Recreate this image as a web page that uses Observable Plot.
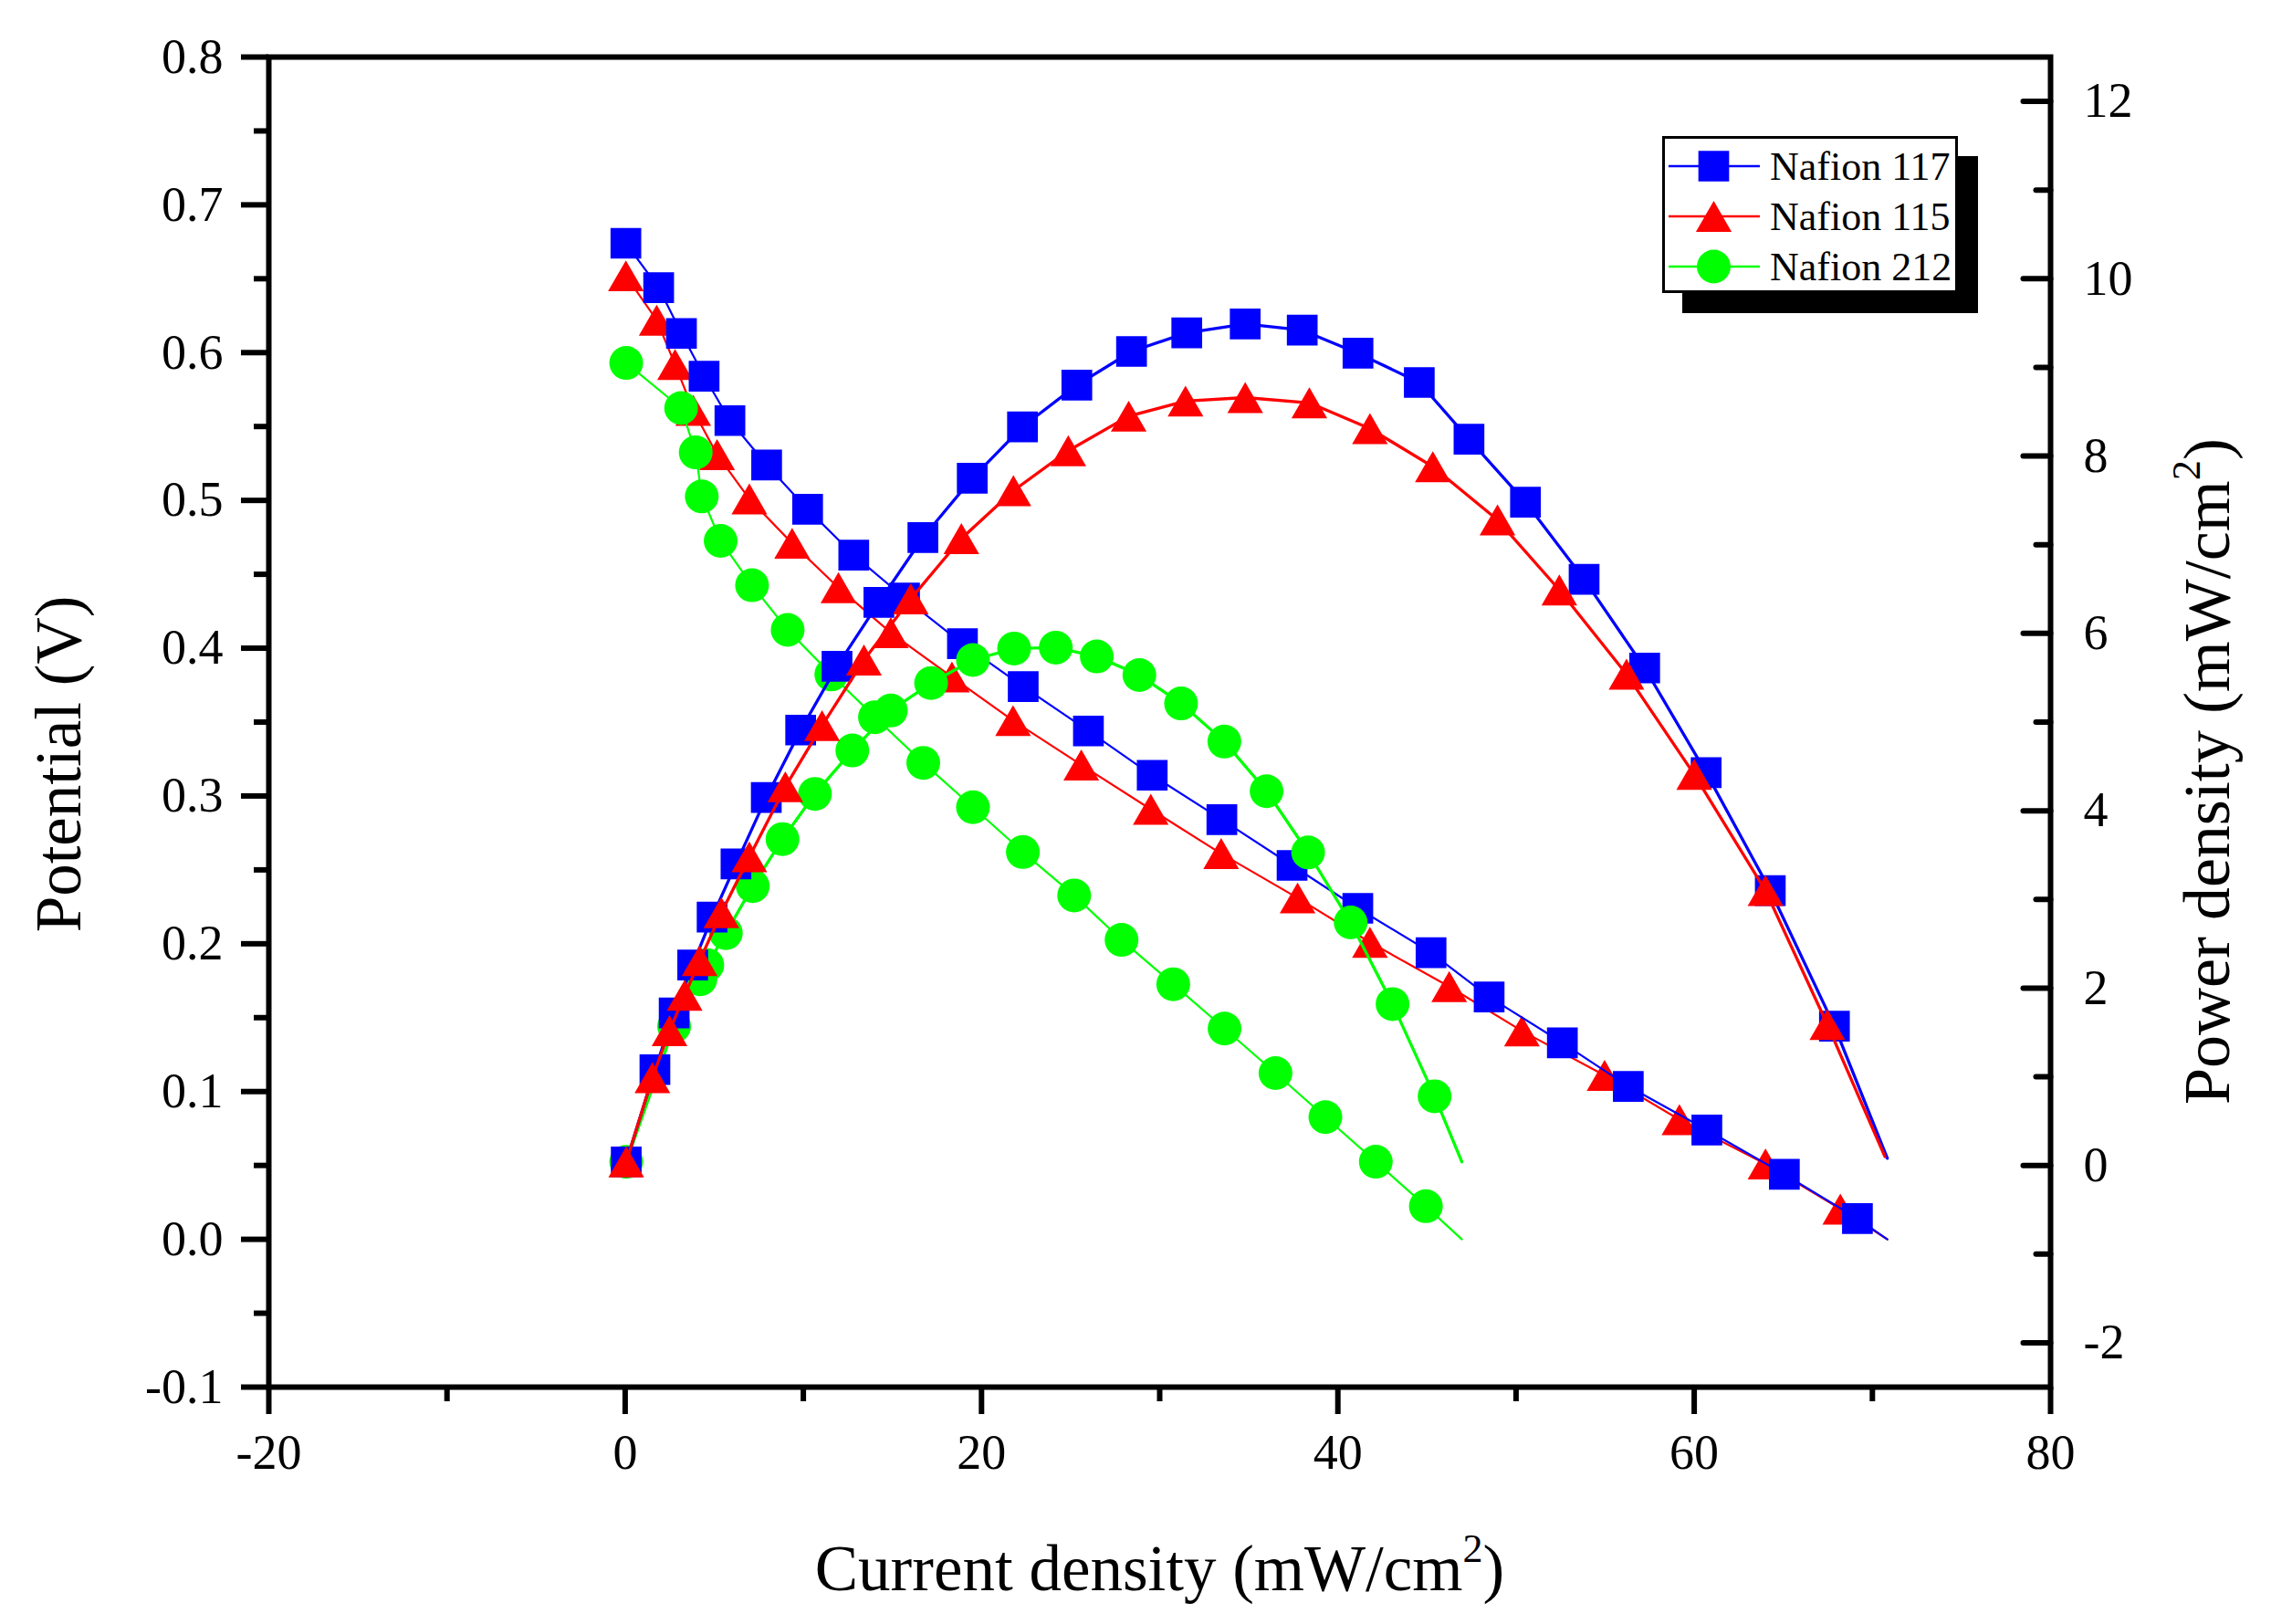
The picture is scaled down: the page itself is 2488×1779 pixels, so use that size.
<!DOCTYPE html>
<html><head><meta charset="utf-8">
<script src="https://cdn.jsdelivr.net/npm/d3@7"></script>
<script src="https://cdn.jsdelivr.net/npm/@observablehq/plot@0.6"></script>
<style>
html,body{margin:0;padding:0;background:#fff;}
#wrap{position:relative;width:2488px;height:1779px;font-family:"Liberation Serif","Times New Roman",serif;}
#legend{position:absolute;left:1821px;top:149px;width:318px;height:166px;border:3px solid #000;background:#fff;box-shadow:22px 22px 0 #000;}
</style></head><body><div id="wrap"><div id="legend"></div></div>
<script>
// ---- data ----
const seriesNames = ["Nafion 117", "Nafion 115", "Nafion 212"];
const seriesColors = ["#0000ff", "#ff0000", "#00ff00"];

// Nafion 117 potential
const n117_VI = [0.04, 1.88, 3.16, 4.43, 5.88, 7.94, 10.24, 12.83, 15.68, 18.93, 22.34, 26.0, 29.58, 33.49, 37.43, 41.12, 45.23, 48.49, 52.6, 56.3, 60.71, 65.06, 69.16];
const n117_V  = [0.674, 0.644, 0.613, 0.584, 0.554, 0.524, 0.494, 0.463, 0.434, 0.403, 0.374, 0.344, 0.314, 0.284, 0.253, 0.224, 0.194, 0.164, 0.133, 0.1035, 0.074, 0.044, 0.014];
const n117_Vend = [70.84, 0.0];
// Nafion 117 power density
const n117_PI = [0.06, 1.67, 2.75, 3.79, 4.88, 6.22, 7.92, 9.85, 11.89, 14.24, 16.71, 19.48, 22.3, 25.35, 28.42, 31.52, 34.8, 38.0, 41.13, 44.57, 47.36, 50.53, 53.82, 57.22, 60.67, 64.27, 67.87];
const n117_P  = [0.04, 1.08, 1.72, 2.26, 2.80, 3.40, 4.15, 4.91, 5.63, 6.35, 7.08, 7.75, 8.33, 8.80, 9.18, 9.39, 9.49, 9.42, 9.16, 8.83, 8.19, 7.48, 6.61, 5.61, 4.43, 3.10, 1.57];
const n117_Pend = [70.84, 0.08];

// Nafion 115 potential
const n115_VI = [0.04, 1.77, 2.80, 3.82, 5.16, 6.97, 9.37, 11.97, 14.91, 18.34, 21.77, 25.6, 29.5, 33.45, 37.74, 41.8, 46.25, 50.33, 54.97, 59.17, 64.0, 68.2];
const n115_V  = [0.652, 0.622, 0.592, 0.561, 0.531, 0.501, 0.471, 0.441, 0.4105, 0.3805, 0.351, 0.321, 0.291, 0.261, 0.231, 0.201, 0.171, 0.141, 0.111, 0.081, 0.051, 0.0205];
const n115_Vend = [70.84, 0.0];
// Nafion 115 power density
const n115_PI = [0.06, 1.53, 2.49, 3.34, 4.18, 5.40, 6.97, 8.99, 11.05, 13.4, 16.03, 18.87, 21.79, 24.87, 28.26, 31.45, 34.8, 38.4, 41.8, 45.33, 48.96, 52.43, 56.2, 60.0, 64.0, 67.47];
const n115_P  = [0.04, 0.99, 1.52, 1.92, 2.31, 2.85, 3.48, 4.27, 4.96, 5.70, 6.39, 7.07, 7.61, 8.06, 8.45, 8.62, 8.66, 8.60, 8.31, 7.88, 7.28, 6.49, 5.54, 4.41, 3.10, 1.59];
const n115_Pend = [70.7, 0.1];

// Nafion 212 potential
const n212_VI = [0.06, 3.14, 3.96, 4.30, 5.36, 7.12, 9.12, 11.57, 14.02, 16.73, 19.52, 22.32, 25.2, 27.86, 30.76, 33.64, 36.5, 39.3, 42.13, 44.94];
const n212_V  = [0.593, 0.5625, 0.5325, 0.5027, 0.4726, 0.4426, 0.4124, 0.3822, 0.3533, 0.3224, 0.2924, 0.2621, 0.2327, 0.2026, 0.1726, 0.1426, 0.1125, 0.0827, 0.0525, 0.0224];
const n212_Vend = [46.96, 0.0];
// Nafion 212 power density
const n212_PI = [0.06, 2.75, 4.22, 4.61, 5.65, 7.16, 8.83, 10.65, 12.75, 14.91, 17.17, 19.52, 21.83, 24.17, 26.47, 28.86, 31.2, 33.63, 36.0, 38.33, 40.72, 43.07, 45.43];
const n212_P  = [0.04, 1.57, 2.10, 2.26, 2.62, 3.15, 3.68, 4.19, 4.68, 5.13, 5.44, 5.70, 5.83, 5.84, 5.74, 5.53, 5.21, 4.78, 4.22, 3.53, 2.74, 1.82, 0.78];
const n212_Pend = [46.96, 0.04];

// axes
const xMajor = [-20, 0, 20, 40, 60, 80];
const xMinor = [-10, 10, 30, 50, 70];
const vMajor = [-0.1, 0, 0.1, 0.2, 0.3, 0.4, 0.5, 0.6, 0.7, 0.8];
const vMinor = [-0.05, 0.05, 0.15, 0.25, 0.35, 0.45, 0.55, 0.65, 0.75];
const pMajor = [-2, 0, 2, 4, 6, 8, 10, 12];
const pMinor = [-1, 1, 3, 5, 7, 9, 11];
const pDomain = [-2.5, 12.5];
const vDomain = [-0.1, 0.8];

// ---- mapping of the right (power) axis onto the left scale ----
const k = (vDomain[1] - vDomain[0]) / (pDomain[1] - pDomain[0]);
const p2v = p => vDomain[0] + (p - pDomain[0]) * k;
const v2p = v => (v - vDomain[0]) / k + pDomain[0];

const rowsV = (I, V) => I.map((x, i) => ({I: x, y: V[i]}));
const rowsP = (I, P) => I.map((x, i) => ({I: x, y: p2v(P[i])}));
const lineV = (I, V, end) => rowsV(I, V).concat([{I: end[0], y: end[1]}]);
const lineP = (I, P, end) => rowsP(I, P).concat([{I: end[0], y: p2v(end[1])}]);

// custom triangle (bbox-centred, like Origin)
const triangle = {draw(ctx, size) {
  const r = Math.sqrt(size / Math.PI), hw = 1.35 * r, hh = 1.17 * r;
  ctx.moveTo(0, -hh); ctx.lineTo(hw, hh); ctx.lineTo(-hw, hh); ctx.closePath();
}};
const symbols = [d3.symbolSquare, triangle, d3.symbolCircle];
const radii = [19, 14.5, 18.5];
const tickShape = {draw(ctx, l) { ctx.moveTo(0, 0); ctx.lineTo(0, -l); }};

const VW = 2.2, PW = 3.3;
function series(i, data, line, w) {
  return [
    Plot.line(line, {x: "I", y: "y", stroke: seriesColors[i], strokeWidth: w}),
    Plot.dot(data, {x: "I", y: "y", fill: seriesColors[i], symbol: symbols[i], r: radii[i]})
  ];
}

const chart = Plot.plot({
  width: 2488, height: 1779,
  marginLeft: 294, marginRight: 242, marginTop: 62, marginBottom: 260,
  style: {fontFamily: "'Liberation Serif', 'Times New Roman', serif", background: "#fff", color: "#000"},
  x: {domain: [-20, 80], label: null},
  y: {domain: vDomain, label: null},
  marks: [
    // potential curves
    ...series(1, rowsV(n115_VI, n115_V), lineV(n115_VI, n115_V, n115_Vend), VW),
    ...series(0, rowsV(n117_VI, n117_V), lineV(n117_VI, n117_V, n117_Vend), VW),
    ...series(2, rowsV(n212_VI, n212_V), lineV(n212_VI, n212_V, n212_Vend), VW),
    // power density curves
    ...series(2, rowsP(n212_PI, n212_P), lineP(n212_PI, n212_P, n212_Pend), PW),
    ...series(0, rowsP(n117_PI, n117_P), lineP(n117_PI, n117_P, n117_Pend), PW),
    ...series(1, rowsP(n115_PI, n115_P), lineP(n115_PI, n115_P, n115_Pend), PW),
    Plot.frame({stroke: "#000", strokeWidth: 6}),
    // left axis
    Plot.axisY(vMajor, {anchor: "left", tickSize: 30, tickPadding: 20, strokeWidth: 6, fontSize: 54, label: null, tickFormat: d => d.toFixed(1)}),
    Plot.axisY(vMinor, {anchor: "left", tickSize: 16, strokeWidth: 6, label: null, tickFormat: () => ""}),
    // bottom axis
    Plot.axisX(xMajor, {anchor: "bottom", tickSize: 30, tickPadding: 21, strokeWidth: 6, fontSize: 54, label: null, tickFormat: d => String(d)}),
    Plot.axisX(xMinor, {anchor: "bottom", tickSize: 16, strokeWidth: 6, label: null, tickFormat: () => ""}),
    // right axis (power density), ticks pointing inward
    Plot.axisY(pMajor.map(p2v), {anchor: "right", tickSize: 0, tickPadding: 36, fontSize: 54, label: null, tickFormat: v => String(Math.round(v2p(v)))}),
    Plot.vector(pMajor, {y: p2v, frameAnchor: "right", length: 30, rotate: -90, anchor: "start", shape: tickShape, stroke: "#000", strokeWidth: 6}),
    Plot.vector(pMinor, {y: p2v, frameAnchor: "right", length: 16, rotate: -90, anchor: "start", shape: tickShape, stroke: "#000", strokeWidth: 6}),
    // axis titles
    Plot.text(["Potential (V)"], {frameAnchor: "left", dx: -229, dy: 46, rotate: -90, fontSize: 71, textAnchor: "middle"}),
    Plot.text(["Power density (mW/cm²)"], {frameAnchor: "right", dx: 172, dy: 54, rotate: -90, fontSize: 72, textAnchor: "middle"}),
    Plot.text(["Current density (mW/cm²)"], {frameAnchor: "bottom", dy: 222, fontSize: 71, textAnchor: "middle"})
  ]
});

// superscript "2" as a real raised tspan
d3.select(chart).selectAll("text").each(function() {
  const t = this.textContent;
  if (t.includes("²") && this.childElementCount === 0) {
    const [a, b] = t.split("²");
    const el = d3.select(this); el.text(null);
    el.append("tspan").text(a);
    el.append("tspan").attr("font-size", "0.62em").attr("dy", "-0.7em").text("2");
    el.append("tspan").attr("dy", "0.434em").text(b);
  }
});

document.getElementById("wrap").prepend(chart);

// legend
const lg = d3.select("#legend").append("svg").attr("width", 318).attr("height", 166).style("display", "block");
const rowY = [30, 85, 140];
seriesNames.forEach((name, i) => {
  const g = lg.append("g");
  g.append("line").attr("x1", 4).attr("x2", 104).attr("y1", rowY[i]).attr("y2", rowY[i])
    .attr("stroke", seriesColors[i]).attr("stroke-width", 2.5);
  g.append("path").attr("transform", `translate(53.5,${rowY[i]})`)
    .attr("d", d3.symbol(symbols[i], Math.PI * radii[i] * radii[i])())
    .attr("fill", seriesColors[i]);
  g.append("text").attr("x", 115).attr("y", rowY[i] + 15).attr("font-size", 44)
    .attr("font-family", "'Liberation Serif', 'Times New Roman', serif").text(name);
});
</script></body></html>
